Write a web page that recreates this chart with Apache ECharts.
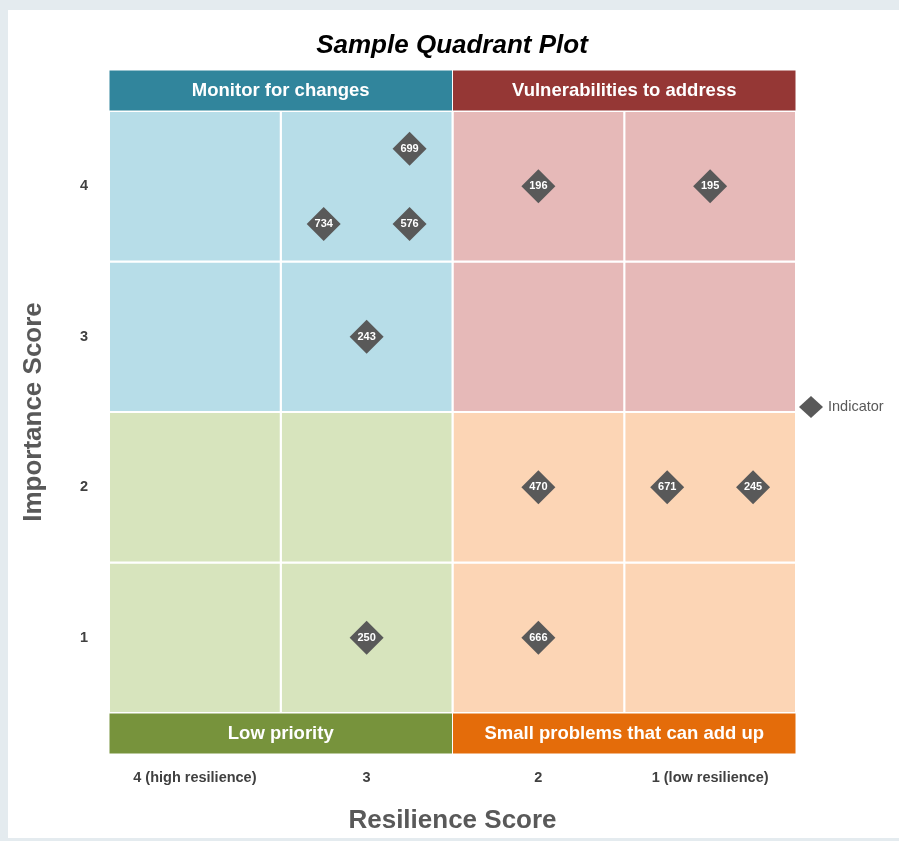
<!DOCTYPE html>
<html>
<head>
<meta charset="utf-8">
<script src="https://cdn.jsdelivr.net/npm/echarts@6/dist/echarts.min.js"></script>
<style>
html,body{margin:0;padding:0;background:#e4ebef;}
#chart{width:899px;height:841px;}
</style>
</head>
<body>
<div id="chart"></div>
<script>
// ---- data ----
const chartTitle = 'Sample Quadrant Plot';
const xAxisTitle = 'Resilience Score';
const yAxisTitle = 'Importance Score';
const legendName = 'Indicator';
const xTickLabels = ['4 (high resilience)', '3', '2', '1 (low resilience)'];
const yTickLabels = ['1', '2', '3', '4'];
const scoreRange = [0.5, 4.5];
const cellBreaks = [0.5, 1.5, 2.5, 3.5, 4.5];
const quadrantSplit = 2.5;
const indicatorIds = ['699', '734', '576', '243', '196', '195', '470', '671', '245', '250', '666'];
const resilienceScores = [2.75, 3.25, 2.75, 3, 2, 1, 2, 1.25, 0.75, 3, 2];
const importanceScores = [4.25, 3.75, 3.75, 3, 4, 4, 2, 2, 2, 1, 1];
// quadrant order: top-left, top-right, bottom-left, bottom-right
const quadrantTitles = ['Monitor for changes', 'Vulnerabilities to address', 'Low priority', 'Small problems that can add up'];
const quadrantHeaderColors = ['#31859c', '#953735', '#77933c', '#e46c0a'];
const quadrantCellColors = ['#b7dde8', '#e6b9b8', '#d7e4bd', '#fcd5b5'];

// ---- styles ----
const font = "'Liberation Sans', Arial, sans-serif";

function quadrantIndex(xLow, yLow) {
  const left = xLow >= quadrantSplit;   // x axis is reversed: high resilience on the left
  const top = yLow >= quadrantSplit;
  return (top ? 0 : 2) + (left ? 0 : 1);
}

const cellAreas = [];
for (let i = 0; i < cellBreaks.length - 1; i++) {
  for (let j = 0; j < cellBreaks.length - 1; j++) {
    const q = quadrantIndex(cellBreaks[i], cellBreaks[j]);
    cellAreas.push([
      { xAxis: cellBreaks[i], yAxis: cellBreaks[j], itemStyle: { color: quadrantCellColors[q] } },
      { xAxis: cellBreaks[i + 1], yAxis: cellBreaks[j + 1] }
    ]);
  }
}

function bandAreas(quadrants) {
  return quadrants.map(function (q) {
    const left = q % 2 === 0;
    const x0 = left ? scoreRange[1] : quadrantSplit;
    const x1 = left ? quadrantSplit : scoreRange[0];
    return [
      { xAxis: x0, yAxis: 0, itemStyle: { color: quadrantHeaderColors[q] },
        label: { formatter: quadrantTitles[q] } },
      { xAxis: x1, yAxis: 1 }
    ];
  });
}

const bandLabel = {
  show: true, position: 'inside', color: '#ffffff',
  fontFamily: font, fontWeight: 'bold', fontSize: 18.5
};

const points = indicatorIds.map(function (id, i) {
  return { name: id, value: [resilienceScores[i], importanceScores[i]] };
});

const gridLeft = 109, gridWidth = 687;

const chart = echarts.init(document.getElementById('chart'), null, { renderer: 'canvas' });
chart.setOption({
  backgroundColor: '#e4ebef',
  animation: false,
  graphic: [{
    type: 'rect', z: -10, silent: true,
    shape: { x: 8, y: 10, width: 891, height: 828 },
    style: { fill: '#ffffff' }
  }],
  title: {
    text: chartTitle, left: 452, top: 33, padding: 0, textAlign: 'center',
    textStyle: { fontFamily: font, fontSize: 26, fontWeight: 'bold', fontStyle: 'italic', color: '#000000' }
  },
  legend: {
    data: [legendName], orient: 'vertical', left: 799, top: 396, padding: 0,
    icon: 'diamond', itemWidth: 24, itemHeight: 22,
    textStyle: { fontFamily: font, fontSize: 14.5, color: '#595959' }
  },
  grid: [
    { left: gridLeft, top: 111, width: gridWidth, height: 602, outerBoundsMode: 'none' },
    { left: gridLeft, top: 70, width: gridWidth, height: 41, outerBoundsMode: 'none' },
    { left: gridLeft, top: 713, width: gridWidth, height: 41, outerBoundsMode: 'none' }
  ],
  xAxis: [
    { type: 'value', gridIndex: 0, min: scoreRange[0], max: scoreRange[1], inverse: true, show: false },
    { type: 'category', gridIndex: 0, data: xTickLabels, position: 'bottom', boundaryGap: true,
      axisLine: { show: false }, axisTick: { show: false }, splitLine: { show: false },
      axisLabel: { interval: 0, margin: 57, fontFamily: font, fontWeight: 'bold', fontSize: 14.5, color: '#404040' },
      name: xAxisTitle, nameLocation: 'middle', nameGap: 95,
      nameTextStyle: { fontFamily: font, fontWeight: 'bold', fontSize: 26, color: '#595959' } },
    { type: 'value', gridIndex: 1, min: scoreRange[0], max: scoreRange[1], inverse: true, show: false },
    { type: 'value', gridIndex: 2, min: scoreRange[0], max: scoreRange[1], inverse: true, show: false }
  ],
  yAxis: [
    { type: 'value', gridIndex: 0, min: scoreRange[0], max: scoreRange[1], show: false },
    { type: 'category', gridIndex: 0, data: yTickLabels, position: 'left', boundaryGap: true,
      axisLine: { show: false }, axisTick: { show: false }, splitLine: { show: false },
      axisLabel: { interval: 0, margin: 21, fontFamily: font, fontWeight: 'bold', fontSize: 14.5, color: '#404040' },
      name: yAxisTitle, nameLocation: 'middle', nameGap: 62, nameRotate: 90,
      nameTextStyle: { fontFamily: font, fontWeight: 'bold', fontSize: 26, color: '#595959' } },
    { type: 'value', gridIndex: 1, min: 0, max: 1, show: false },
    { type: 'value', gridIndex: 2, min: 0, max: 1, show: false }
  ],
  series: [
    {
      type: 'scatter', xAxisIndex: 0, yAxisIndex: 0, data: [], z: 1, silent: true, clip: false,
      markArea: {
        silent: true,
        itemStyle: { borderColor: '#ffffff', borderWidth: 2 },
        label: { show: false },
        data: cellAreas
      }
    },
    {
      type: 'scatter', xAxisIndex: 2, yAxisIndex: 2, data: [], z: 1, silent: true, clip: false,
      markArea: {
        silent: true,
        itemStyle: { borderColor: '#ffffff', borderWidth: 1 },
        label: bandLabel,
        data: bandAreas([0, 1])
      }
    },
    {
      type: 'scatter', xAxisIndex: 3, yAxisIndex: 3, data: [], z: 1, silent: true, clip: false,
      markArea: {
        silent: true,
        itemStyle: { borderColor: '#ffffff', borderWidth: 1 },
        label: bandLabel,
        data: bandAreas([2, 3])
      }
    },
    {
      name: legendName, type: 'scatter', xAxisIndex: 0, yAxisIndex: 0, z: 5,
      symbol: 'diamond', symbolSize: 34,
      itemStyle: { color: '#595959', opacity: 1 },
      label: {
        show: true, position: 'inside', formatter: '{b}', color: '#ffffff',
        fontFamily: font, fontWeight: 'bold', fontSize: 11
      },
      emphasis: { disabled: true },
      data: points
    }
  ]
});
</script>
</body>
</html>
